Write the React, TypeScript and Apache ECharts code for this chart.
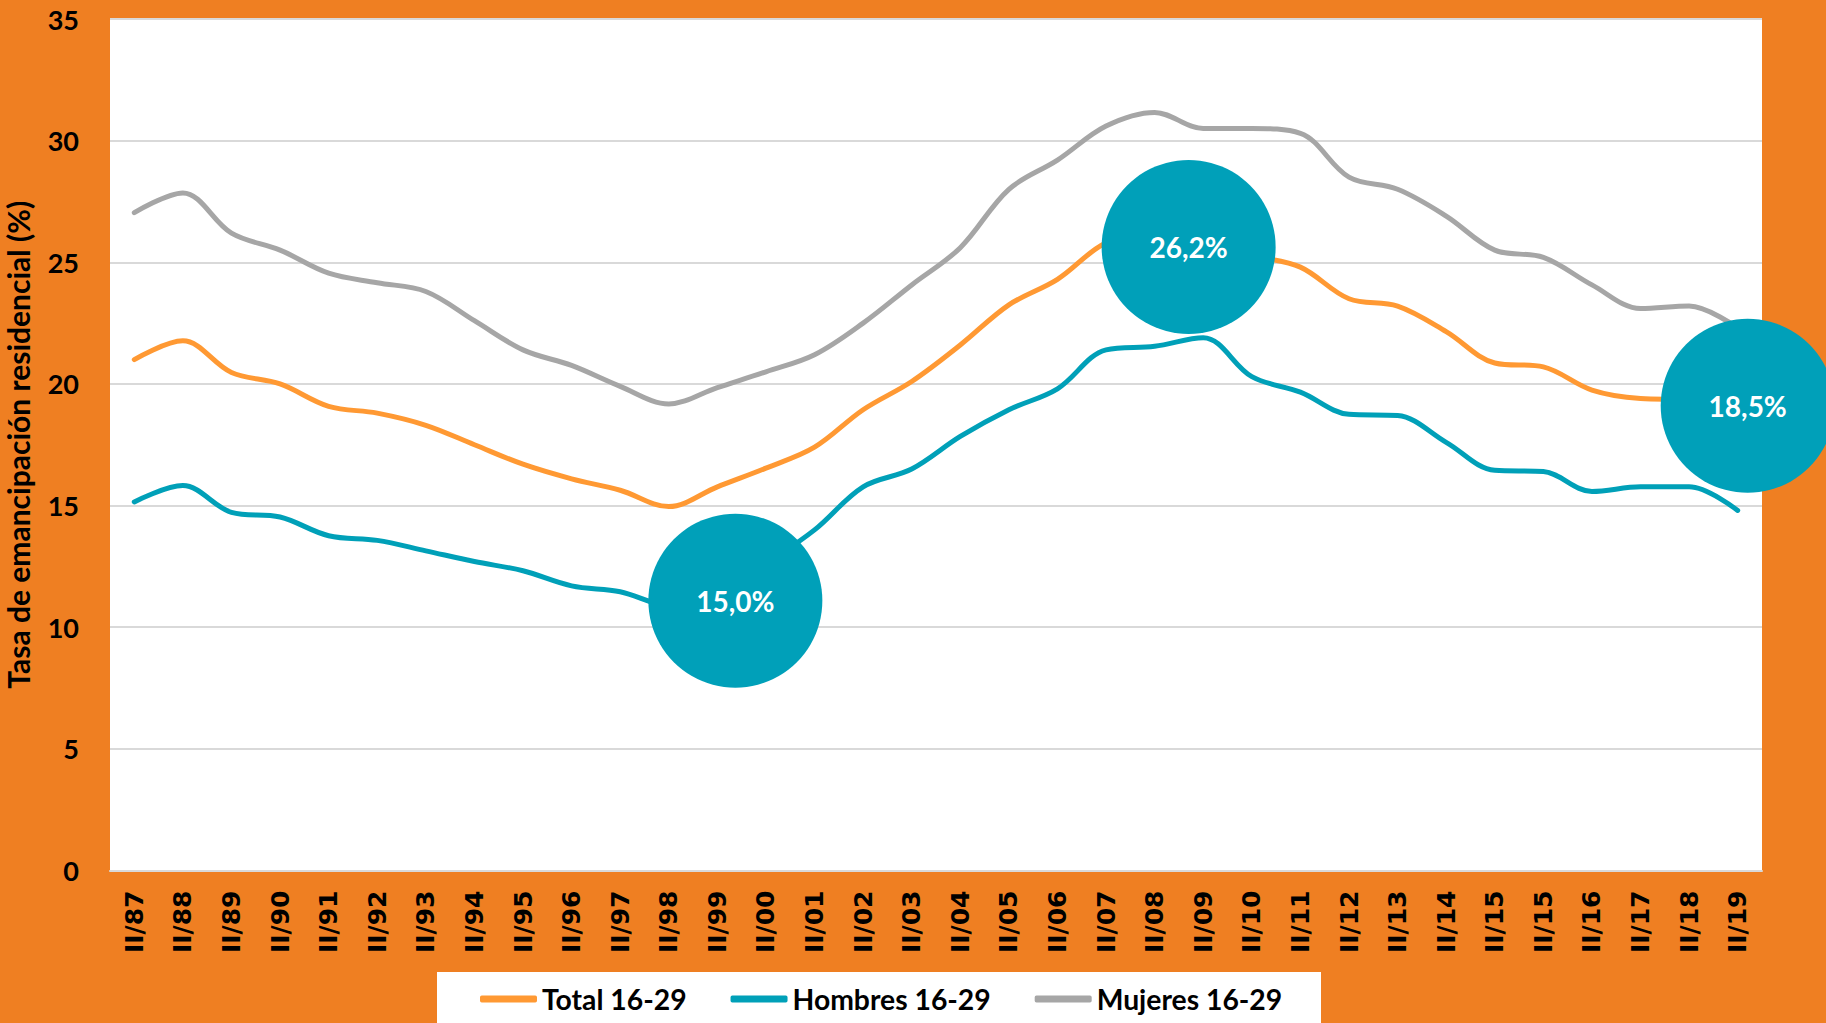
import React, { useEffect, useRef } from "react";
import * as echarts from "echarts";

const categories = [
  "II/87", "II/88", "II/89", "II/90", "II/91", "II/92", "II/93", "II/94", "II/95", "II/96",
  "II/97", "II/98", "II/99", "II/00", "II/01", "II/02", "II/03", "II/04", "II/05", "II/06",
  "II/07", "II/08", "II/09", "II/10", "II/11", "II/12", "II/13", "II/14", "II/15", "II/15",
  "II/16", "II/17", "II/18", "II/19",
];

const total = [
  21.0, 21.77, 20.47, 20.0, 19.08, 18.8, 18.3, 17.5, 16.7, 16.1,
  15.63, 14.96, 15.77, 16.54, 17.4, 18.94, 20.1, 21.6, 23.25, 24.3,
  25.8, 26.2, 26.0, 25.3, 24.8, 23.5, 23.2, 22.15, 20.86, 20.7,
  19.75, 19.4, 19.35, 18.5,
];

const hombres = [
  15.15, 15.82, 14.72, 14.53, 13.76, 13.57, 13.14, 12.7, 12.32, 11.7,
  11.46, 10.9, 11.3, 12.6, 14.0, 15.77, 16.5, 17.84, 18.94, 19.8,
  21.4, 21.55, 21.9, 20.3, 19.66, 18.75, 18.7, 17.6, 16.45, 16.4,
  15.58, 15.77, 15.77, 14.8,
];

const mujeres = [
  27.04, 27.85, 26.2, 25.5, 24.55, 24.16, 23.8, 22.6, 21.4, 20.76,
  19.9, 19.18, 19.85, 20.5, 21.2, 22.5, 24.07, 25.6, 28.0, 29.2,
  30.6, 31.16, 30.5, 30.5, 30.3, 28.5, 28.0, 26.9, 25.5, 25.2,
  24.07, 23.1, 23.2, 22.3,
];

const seriesNames = ["Total 16-29", "Hombres 16-29", "Mujeres 16-29"];

// callout bubbles: category index, value, label
const calloutIndex = [12, 22, 33];
const calloutValue = [11.09, 25.63, 19.1];
const calloutLabel = ["15,0%", "26,2%", "18,5%"];
const calloutShift = [18, -14.6, 10];

const ORANGE_BG = "#EF7F22";
const C_TOTAL = "#FF9933";
const C_HOMBRES = "#00A0B8";
const C_MUJERES = "#A6A6A6";
const FONT = "Lato";

export default function App() {
  const ref = useRef<HTMLDivElement>(null);

  useEffect(() => {
    document.body.style.margin = "0";
    if (!ref.current) return;
    const chart = echarts.init(ref.current, null, { renderer: "svg" });

    const mkLine = (name: string, data: number[], color: string, extra: any = {}) => ({
      name,
      type: "line",
      data,
      smooth: 0.35,
      showSymbol: false,
      symbol: "none",
      lineStyle: { color, width: 5, cap: "round" },
      itemStyle: { color },
      ...extra,
    });

    const option: any = {
      animation: false,
      backgroundColor: ORANGE_BG,
      textStyle: { fontFamily: FONT },
      grid: {
        left: 110,
        right: 64,
        top: 19,
        bottom: 152.5,
        containLabel: false,
        outerBoundsMode: "none",
        show: true,
        backgroundColor: "#FFFFFF",
        borderWidth: 0,
      },
      graphic: [
        {
          type: "rect",
          z: 0,
          shape: { x: 437, y: 972, width: 884, height: 60 },
          style: { fill: "#FFFFFF" },
        },
      ],
      legend: {
        data: seriesNames,
        left: 480,
        top: 985,
        padding: 0,
        itemGap: 44,
        itemWidth: 57,
        itemHeight: 7,
        icon: "roundRect",
        textStyle: {
          fontFamily: FONT,
          fontWeight: "bold",
          fontSize: 28.3,
          color: "#000",
          lineHeight: 28,
        },
      },
      xAxis: {
        type: "category",
        data: categories,
        boundaryGap: true,
        axisTick: { show: false },
        axisLine: { show: true, lineStyle: { color: "#D9D9D9", width: 2 } },
        axisLabel: {
          interval: 0,
          rotate: 90,
          margin: 20,
          fontFamily: "DejaVu Sans",
          fontWeight: "bold",
          fontSize: 25,
          color: "#000",
        },
      },
      yAxis: {
        type: "value",
        min: 0,
        max: 35,
        interval: 5,
        name: "Tasa de emancipación residencial (%)",
        nameLocation: "middle",
        nameRotate: 90,
        nameGap: 77,
        nameTextStyle: {
          fontFamily: FONT,
          fontWeight: "bold",
          fontSize: 30,
          color: "#000",
        },
        axisLine: { show: false },
        axisTick: { show: false },
        axisLabel: {
          margin: 31,
          fontFamily: FONT,
          fontWeight: "bold",
          fontSize: 27,
          color: "#000",
        },
        splitLine: { show: true, lineStyle: { color: "#D9D9D9", width: 2 } },
      },
      series: [
        mkLine(seriesNames[0], total, C_TOTAL),
        mkLine(seriesNames[1], hombres, C_HOMBRES),
        mkLine(seriesNames[2], mujeres, C_MUJERES, {
          markPoint: {
            symbol: "circle",
            symbolSize: 174,
            silent: true,
            itemStyle: { color: "#00A0B9" },
            label: {
              show: true,
              position: "inside",
              color: "#FFFFFF",
              fontFamily: FONT,
              fontWeight: "bold",
              fontSize: 28,
            },
            data: calloutIndex.map((idx, i) => ({
              coord: [idx, calloutValue[i]],
              symbolOffset: [calloutShift[i], 0],
              label: { formatter: calloutLabel[i] },
            })),
          },
        }),
      ],
    };

    chart.setOption(option);
    return () => chart.dispose();
  }, []);

  return (
    <div
      ref={ref}
      style={{ position: "fixed", left: 0, top: 0, width: 1826, height: 1023 }}
    />
  );
}
